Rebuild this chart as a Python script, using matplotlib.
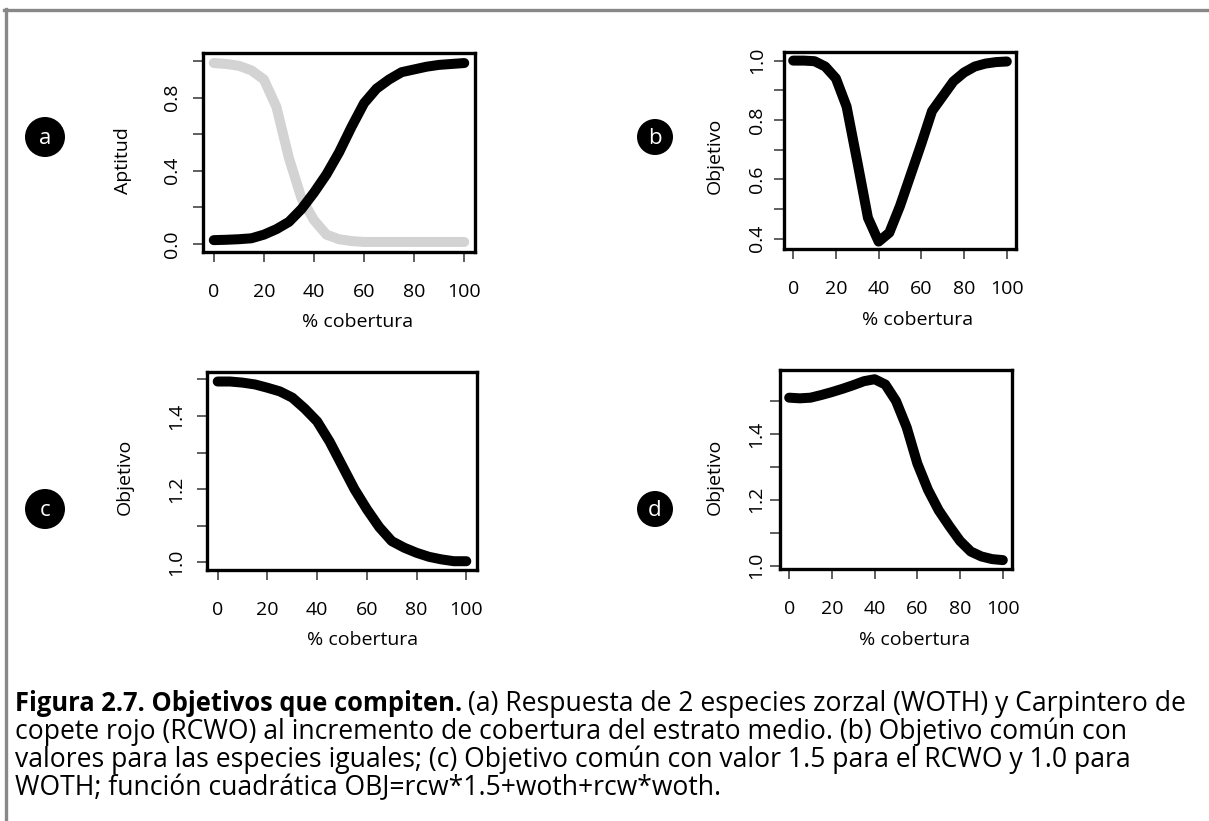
import matplotlib
matplotlib.use('Agg')
import matplotlib.pyplot as plt
from matplotlib.patches import Ellipse
from matplotlib.lines import Line2D

plt.rcParams['font.family'] = ['Open Sans', 'DejaVu Sans']

W, H = 1209, 821

# % cobertura del estrato medio
cobertura = [0, 5, 10, 15, 20, 25, 30, 35, 40, 45, 50,
             55, 60, 65, 70, 75, 80, 85, 90, 95, 100]

# (a) aptitud de cada especie
rcwo_apt = [0.02, 0.022, 0.025, 0.03, 0.05, 0.08, 0.12, 0.19, 0.28, 0.38, 0.50,
            0.64, 0.77, 0.85, 0.90, 0.94, 0.955, 0.97, 0.98, 0.985, 0.99]
woth_apt = [0.99, 0.985, 0.975, 0.95, 0.90, 0.75, 0.47, 0.25, 0.13, 0.05, 0.025,
            0.015, 0.01, 0.01, 0.01, 0.01, 0.01, 0.01, 0.01, 0.01, 0.01]

# (b) objetivo comun, valores iguales
obj_b = [1.0, 1.0, 0.998, 0.98, 0.94, 0.845, 0.66, 0.47, 0.39, 0.42, 0.51,
         0.615, 0.72, 0.83, 0.88, 0.93, 0.96, 0.98, 0.99, 0.995, 0.997]

# (c) objetivo comun, 1.5 RCWO / 1.0 WOTH
obj_c = [1.494, 1.494, 1.491, 1.486, 1.477, 1.467, 1.45, 1.42, 1.385, 1.33, 1.265,
         1.20, 1.145, 1.096, 1.058, 1.04, 1.026, 1.015, 1.008, 1.003, 1.003]

# (d) funcion cuadratica
obj_d = [1.51, 1.508, 1.51, 1.518, 1.527, 1.537, 1.548, 1.56, 1.566, 1.55, 1.50,
         1.42, 1.31, 1.23, 1.168, 1.12, 1.075, 1.043, 1.028, 1.02, 1.017]

xticks = [0, 20, 40, 60, 80, 100]


def fx(x):
    return x / W


def fy(y):
    return 1 - y / H


def make_axes(fig, left, right, top, bottom):
    return fig.add_axes([fx(left), fy(bottom), (right - left) / W, (bottom - top) / H])


def style_axes(ax, ylim, yticks, ylabels, ypad):
    ax.set_xlim(-4.3, 104.3)
    ax.set_ylim(*ylim)
    ax.set_xticks(xticks)
    ax.set_yticks(yticks)
    ax.set_yticklabels(ylabels, rotation=90, va='center')
    for s in ax.spines.values():
        s.set_linewidth(2.4)
    ax.tick_params(length=7, width=1.2, color='#444444', labelsize=14)
    ax.tick_params(axis='x', pad=15.5)
    ax.tick_params(axis='y', pad=ypad)


def letter(fig, x, y, r, s):
    fig.add_artist(Ellipse((fx(x), fy(y)), 2 * r / W, 2 * r / H,
                           transform=fig.transFigure, facecolor='black', edgecolor='none'))
    fig.text(fx(x), fy(y + 1), s, color='white', fontsize=16, ha='center', va='center')


fig = plt.figure(figsize=(W / 100, H / 100), dpi=100)

lw = 7.2

# (a)
ax = make_axes(fig, 203, 475, 53, 252)
ax.plot(cobertura, woth_apt, color='#d3d3d3', lw=lw, solid_capstyle='round')
ax.plot(cobertura, rcwo_apt, color='black', lw=lw, solid_capstyle='round')
style_axes(ax, (-0.045, 1.045), [0, 0.2, 0.4, 0.6, 0.8, 1.0],
           ['0.0', '', '0.4', '', '0.8', ''], 9)
fig.text(fx(123), fy(161), 'Aptitud', rotation=90, ha='center', va='center', fontsize=14)
fig.text(fx(358), fy(322), '% cobertura', ha='center', va='center', fontsize=14)
letter(fig, 45, 137, 20, 'a')

# (b)
ax = make_axes(fig, 784, 1016, 52, 249)
ax.plot(cobertura, obj_b, color='black', lw=lw, solid_capstyle='round')
style_axes(ax, (0.365, 1.029), [0.4, 0.5, 0.6, 0.7, 0.8, 0.9, 1.0],
           ['0.4', '', '0.6', '', '0.8', '', '1.0'], 6)
fig.text(fx(715), fy(156), 'Objetivo', rotation=90, ha='center', va='center', fontsize=14)
fig.text(fx(918), fy(320), '% cobertura', ha='center', va='center', fontsize=14)
letter(fig, 655, 137, 18, 'b')

# (c)
ax = make_axes(fig, 207, 477, 372, 570)
ax.plot(cobertura, obj_c, color='black', lw=lw, solid_capstyle='round')
style_axes(ax, (0.979, 1.52), [1.0, 1.1, 1.2, 1.3, 1.4, 1.5],
           ['1.0', '', '1.2', '', '1.4', ''], 9)
fig.text(fx(125), fy(477), 'Objetivo', rotation=90, ha='center', va='center', fontsize=14)
fig.text(fx(363), fy(640), '% cobertura', ha='center', va='center', fontsize=14)
letter(fig, 45, 509, 20, 'c')

# (d)
ax = make_axes(fig, 780, 1012, 370, 569)
ax.plot(cobertura, obj_d, color='black', lw=lw, solid_capstyle='round')
style_axes(ax, (0.99, 1.594), [1.0, 1.1, 1.2, 1.3, 1.4, 1.5],
           ['1.0', '', '1.2', '', '1.4', ''], 4)
fig.text(fx(715), fy(477), 'Objetivo', rotation=90, ha='center', va='center', fontsize=14)
fig.text(fx(915), fy(640), '% cobertura', ha='center', va='center', fontsize=14)
letter(fig, 655, 509, 18, 'd')

# marco gris
fig.add_artist(Line2D([fx(4), 1], [fy(10.5), fy(10.5)], color='#888888', lw=2.4,
                      transform=fig.transFigure))
fig.add_artist(Line2D([fx(5.5), fx(5.5)], [fy(9.5), 0], color='#888888', lw=2.4,
                      transform=fig.transFigure))

# leyenda de la figura
cap_fs = 19.1
r = fig.canvas.get_renderer()
bold = fig.text(fx(15), fy(711), 'Figura 2.7. Objetivos que compiten.',
                fontsize=18.4, fontweight='bold', va='baseline')
bb = bold.get_window_extent(renderer=r)
fig.text((bb.x1 + 6) / W, fy(711),
         '(a) Respuesta de 2 especies zorzal (WOTH) y Carpintero de',
         fontsize=cap_fs, va='baseline')
rest = ['copete rojo (RCWO) al incremento de cobertura del estrato medio. (b) Objetivo común con',
        'valores para las especies iguales; (c) Objetivo común con valor 1.5 para el RCWO y 1.0 para',
        'WOTH; función cuadrática OBJ=rcw*1.5+woth+rcw*woth.']
for i, line in enumerate(rest):
    fig.text(fx(15), fy(739.2 + 28.2 * i), line, fontsize=cap_fs, va='baseline')

fig.savefig('out.png', dpi=100)
